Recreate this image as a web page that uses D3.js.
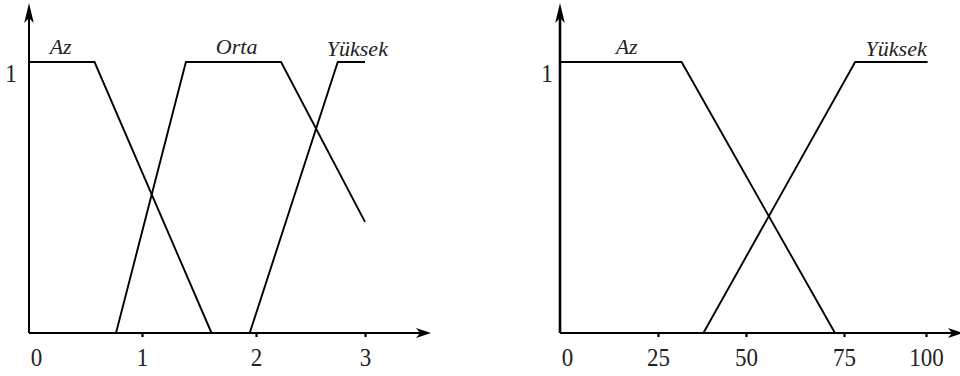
<!DOCTYPE html>
<html>
<head>
<meta charset="utf-8">
<script src="https://cdn.jsdelivr.net/npm/d3@7/dist/d3.min.js"></script>
<style>
  html, body { margin: 0; padding: 0; background: #fff; }
  svg { display: block; }
  text { font-family: "Liberation Serif", "Times New Roman", serif; fill: #222; }
</style>
</head>
<body>
<svg id="chart" width="960" height="376"></svg>
<script>
// ---- data ----
const leftTicks = [0, 1, 2, 3];
const leftTickLabels = ["0", "1", "2", "3"];
const rightTicks = [0, 25, 50, 75, 100];
const rightTickLabels = ["0", "25", "50", "75", "100"];

const leftAz = [[0, 1], [0.58, 1], [1.61, 0]];
const leftOrta = [[0.77, 0], [1.385, 1], [2.23, 1], [3, 0.41]];
const leftYuksek = [[1.945, 0], [2.75, 1], [3, 1]];

const rightAz = [[0, 1], [31.7, 1], [72.7, 0]];
const rightYuksek = [[37.9, 0], [78.4, 1], [100.5, 1]];

const leftLabels = [["Az", 0.28], ["Orta", 1.83], ["Yüksek", 2.93]];
const rightLabels = [["Az", 17], ["Yüksek", 90.9]];

// ---- drawing ----
const svg = d3.select("#chart");
const y = d3.scaleLinear().domain([0, 1]).range([333, 62]);

function arrowRight(g, xTip, yy) {
  g.append("path")
    .attr("d", `M${xTip},${yy} L${xTip - 15},${yy - 5} L${xTip - 11},${yy} L${xTip - 15},${yy + 5} Z`)
    .attr("fill", "#000");
}
function arrowUp(g, xx, yTip, w) {
  g.append("path")
    .attr("d", `M${xx},${yTip} L${xx - w},${yTip + 20} L${xx},${yTip + 15} L${xx + w},${yTip + 20} Z`)
    .attr("fill", "#000");
}

function panel(cfg) {
  const g = svg.append("g");
  const x = d3.scaleLinear().domain(cfg.ticks).range(cfg.range);
  const x0 = x(cfg.ticks[0]);

  // x axis (ticks)
  const axis = d3.axisBottom(x).tickValues(cfg.ticks)
    .tickFormat((d, i) => cfg.tickLabels[i]).tickSize(4).tickSizeOuter(0).tickPadding(9);
  const ag = g.append("g").attr("transform", `translate(0,${y(0)})`).call(axis);
  ag.select(".domain").remove();
  ag.selectAll(".tick line").attr("stroke", "#000").attr("stroke-width", 2.2);
  ag.selectAll(".tick").filter(d => d === cfg.ticks[0]).select("line").remove();
  ag.selectAll(".tick").filter(d => d === cfg.ticks[0]).select("text").attr("dx", 7);
  ag.selectAll(".tick text")
    .attr("font-size", 23).attr("fill", "#222")
    .style("font-family", '"Liberation Serif", "Times New Roman", serif')
    .attr("transform", "scale(1,1.12)");

  // axis lines
  g.append("line").attr("x1", x0).attr("x2", cfg.xEnd - 10)
    .attr("y1", y(0)).attr("y2", y(0)).attr("stroke", "#000").attr("stroke-width", 2);
  arrowRight(g, cfg.xEnd, y(0));
  g.append("line").attr("x1", x0).attr("x2", x0)
    .attr("y1", y(0)).attr("y2", 16).attr("stroke", "#000").attr("stroke-width", cfg.yw);
  arrowUp(g, x0, 3, 4.8);

  // "1" label on y axis
  g.append("text").attr("x", x0 - cfg.oneOff).attr("y", y(1) + 20)
    .attr("text-anchor", "middle").attr("font-size", 23)
    .attr("transform", `translate(0,${-(y(1) + 20) * 0.12}) scale(1,1.12)`)
    .text("1");

  // membership functions
  const line = d3.line().x(d => x(d[0])).y(d => y(d[1]));
  cfg.series.forEach(s => {
    g.append("path").attr("d", line(s)).attr("fill", "none")
      .attr("stroke", "#000").attr("stroke-width", 1.9).attr("stroke-linejoin", "miter");
  });

  // series labels
  cfg.labels.forEach(([name, xv]) => {
    g.append("text").attr("x", x(xv)).attr("y", y(1) - (name === "Yüksek" ? 6 : 8))
      .attr("text-anchor", "middle").attr("font-size", 22).attr("font-style", "italic")
      .text(name);
  });
}

panel({
  ticks: leftTicks, tickLabels: leftTickLabels, range: [29, 142, 256, 365],
  xEnd: 431, yw: 2, oneOff: 18,
  series: [leftAz, leftOrta, leftYuksek], labels: leftLabels
});
panel({
  ticks: rightTicks, tickLabels: rightTickLabels, range: [560, 658, 746, 844, 926],
  xEnd: 963, yw: 2.6, oneOff: 13,
  series: [rightAz, rightYuksek], labels: rightLabels
});
</script>
</body>
</html>
